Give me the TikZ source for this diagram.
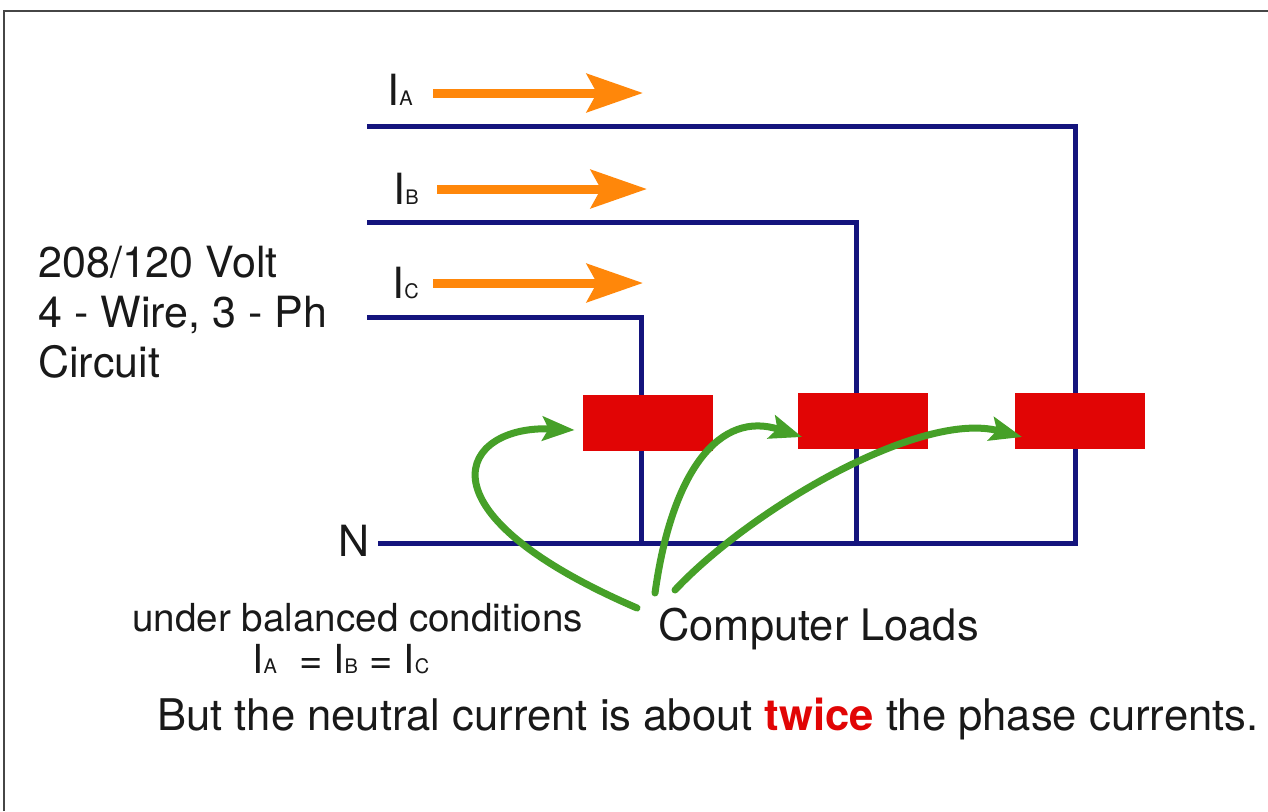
\documentclass[tikz,border=0pt]{standalone}
\usepackage{fontspec}
\setmainfont{TeX Gyre Heros}
\usetikzlibrary{arrows.meta}
\definecolor{wire}{RGB}{20,20,125}
\definecolor{loadred}{RGB}{225,5,5}
\definecolor{curorange}{RGB}{255,135,10}
\definecolor{loadgreen}{RGB}{70,160,40}
\definecolor{framegray}{RGB}{70,70,70}
\definecolor{txt}{RGB}{25,25,25}
\newcommand{\sbl}[1]{{\fontsize{10}{12}\selectfont #1}}
\begin{document}
\begin{tikzpicture}[x=0.5pt,y=-0.5pt,
  wireline/.style={draw=wire,line width=2.5pt,line join=miter},
  loadbox/.style={fill=loadred,draw=none,minimum width=65pt,minimum height=28pt,inner sep=0pt},
  curarrow/.style={draw=curorange,line width=4.5pt,-{Stealth[length=28pt,width=19pt,inset=5pt]}},
  loadarrow/.style={draw=loadgreen,line width=3.5pt,line cap=round,-{Stealth[length=16pt,width=12pt,inset=3pt]}},
  bigtext/.style={text=txt,inner sep=0pt,font=\fontsize{21.5}{25}\selectfont},
  midtext/.style={text=txt,inner sep=0pt,font=\fontsize{19.3}{23}\selectfont}]
\useasboundingbox (0,0) rectangle (1268,811);
\fill[white] (0,0) rectangle (1268,811);
% frame
\draw[framegray,line width=1pt] (4,811) -- (4,11) -- (1268,11);

% wires
\coordinate (aS) at (367,126);
\coordinate (aC) at (1075,126);
\coordinate (nR) at (1075,543);
\coordinate (nL) at (378,543);
\coordinate (bS) at (367,222);
\coordinate (bC) at (856,222);
\coordinate (bN) at (856,543);
\coordinate (cS) at (367,317);
\coordinate (cC) at (641,317);
\coordinate (cN) at (641,543);
\draw[wireline] (aS) -- (aC) -- (nR) -- (nL);
\draw[wireline] (bS) -- (bC) -- (bN);
\draw[wireline] (cS) -- (cC) -- (cN);

% loads
\node[loadbox] (load1) at (648,423) {};
\node[loadbox] (load2) at (862.5,420.5) {};
\node[loadbox] (load3) at (1079.5,420.5) {};

% current labels and arrows
\node[bigtext,anchor=base west] (IA) at (387,105) {I\sbl{A}};
\node[bigtext,anchor=base west] (IB) at (393,204) {I\sbl{B}};
\node[bigtext,anchor=base west] (IC) at (392,298) {I\sbl{C}};
\coordinate (ia1) at (433,93);  \coordinate (ia2) at (643,93);
\coordinate (ib1) at (437,189); \coordinate (ib2) at (647,189);
\coordinate (ic1) at (433,283); \coordinate (ic2) at (643,283);
\draw[curarrow] (ia1) -- (ia2);
\draw[curarrow] (ib1) -- (ib2);
\draw[curarrow] (ic1) -- (ic2);

% texts
\node[bigtext,anchor=base west] (circ) at (38,277) {208/120 Volt};
\node[bigtext,anchor=base west] (circ2) at (38,327) {4 - Wire, 3 - Ph};
\node[bigtext,anchor=base west] (circ3) at (38,377) {Circuit};
\node[bigtext,anchor=base west] (N) at (338,556) {N};
\node[midtext,anchor=base west] (bal) at (132,631) {under balanced conditions};
\node[midtext,anchor=base west,font=\fontsize{20}{24}\selectfont] (eq) at (252,673)
  {I\sbl{A} \ = I\sbl{B} = I\sbl{C}};
\node[bigtext,anchor=base west,font=\fontsize{21.7}{25}\selectfont] (CL) at (658,640) {Computer Loads};
\node[bigtext,anchor=base west,font=\fontsize{21.8}{25}\selectfont] (but) at (157,730)
  {But the neutral current is about \textcolor{loadred}{\textbf{twice}} the phase currents.};

% green arrows
\coordinate (t1) at (637,608);
\coordinate (t2) at (655,593);
\coordinate (t3) at (675,590);
\draw[loadarrow] (t1) .. controls (410,510) and (462,425) .. ([shift={(-8,7)}]load1.west);
\draw[loadarrow] (t2) .. controls (672,470) and (720,410) .. ([shift={(5,16.5)}]load2.west);
\draw[loadarrow] (t3) .. controls (750,510) and (920,410) .. ([shift={(8,16.5)}]load3.west);
\end{tikzpicture}
\end{document}
